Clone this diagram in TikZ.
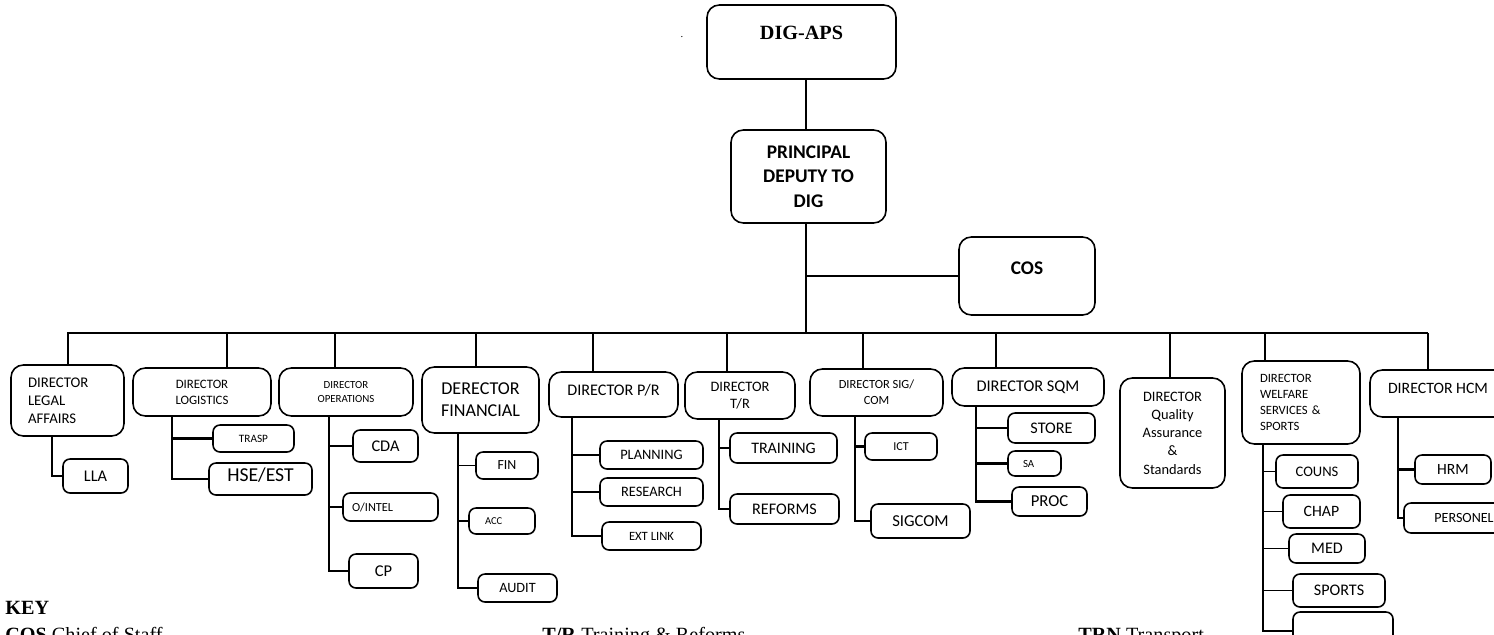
\documentclass[tikz,border=0pt]{standalone}
\usepackage{fontspec}
\setmainfont{Liberation Serif}
\newfontfamily\carlito{Carlito}
\begin{document}
\begin{tikzpicture} [
        x=0.02cm, y=-0.02cm,
        unit/.style={draw, rounded corners=7pt, line width=0.9pt, inner sep=0pt, align=center},
        sub/.style={draw, rounded corners=4pt, line width=0.9pt, inner sep=0pt, align=center},
        sz/.style 2 args={minimum width=#1*0.02cm, minimum height=#2*0.02cm},
        fs/.style 2 args={font=\carlito\fontsize{#1}{#2}\selectfont},
        fsb/.style 2 args={font=\carlito\bfseries\fontsize{#1}{#2}\selectfont},
        link/.style={line width=1.4pt},
        thinlink/.style={line width=0.6pt},
        keytext/.style={font=\fontsize{11.5}{13}\selectfont, anchor=base west, inner sep=0pt} ]
    \useasboundingbox (0,0) rectangle (1494,635);
    \node[unit, sz={189}{74}, font=\bfseries\fontsize{11.5}{14}\selectfont, text height=0.27cm, text depth=0.36cm] (dig) at (801.5,42) {DIG-APS};
    \node[font=\fontsize{6}{7}\selectfont, inner sep=0pt] (dot) at (682,37) {.};
    \node[unit, sz={155}{93}, fsb={11}{13.9}] (pdig) at (808.5,176.5) {PRINCIPAL\\DEPUTY TO\\DIG};
    \node[unit, sz={136}{78}, fsb={11}{13}, text height=0.25cm, text depth=0.32cm] (cos) at (1027,276) {COS};

    \node[unit, sz={113}{71}, fs={8.4}{10.2}, text width=1.58cm, align=left] (legal) at (67.5,400.5) {DIRECTOR\\LEGAL\\AFFAIRS};
    \node[unit, sz={138}{48}, fs={7.3}{9.1}] (logistics) at (202,392) {DIRECTOR\\LOGISTICS};
    \node[unit, sz={134}{48}, fs={6.2}{7.4}] (ops) at (346,392) {DIRECTOR\\OPERATIONS};
    \node[unit, sz={117}{66}, fs={10.3}{12.5}] (financial) at (480.5,400) {DERECTOR\\FINANCIAL};
    \node[unit, sz={129}{45}, fs={9.2}{11}, text height=0.21cm, text depth=0.18cm] (pr) at (613.5,394.5) {DIRECTOR P/R};
    \node[unit, sz={110}{47}, fs={8.2}{9.7}] (tr) at (740,395.5) {DIRECTOR\\T/R};
    \node[unit, sz={133}{47}, fs={7.1}{9.1}] (sig) at (876.5,392.5) {DIRECTOR SIG/\\COM};
    \node[unit, sz={152}{38}, fs={9.3}{11}] (sqm) at (1028,387) {DIRECTOR SQM};
    \node[unit, sz={105}{110}, fs={8.2}{10.4}] (qa) at (1172.5,433) {DIRECTOR\\Quality\\Assurance\\\&\\Standards};
    \node[unit, sz={118}{83}, fs={7.2}{9.1}, text width=1.64cm, align=left] (welfare) at (1301,402.5) {DIRECTOR\\WELFARE\\SERVICES \&\\SPORTS};
    \node[unit, sz={136}{47}, fs={9}{11}, text height=0.2cm, text depth=0.2cm] (hcm) at (1438,393.5) {DIRECTOR HCM};

    \node[sub, sz={65}{34}, fs={9.3}{11}] (lla) at (95.5,476) {LLA};
    \node[sub, sz={81}{27}, fs={6.4}{8}] (trasp) at (253.5,438.5) {TRASP};
    \node[sub, sz={103}{32}, fs={11.2}{13}, text height=0.1cm, text depth=0cm] (hse) at (260.5,479) {HSE/EST};
    \node[sub, sz={65}{32}, fs={9.3}{11}] (cda) at (385.5,446) {CDA};
    \node[sub, sz={95}{28}, fs={7}{9}, text width=1.54cm, align=left] (ointel) at (390.5,507) {O/INTEL};
    \node[sub, sz={69}{34}, fs={9.4}{11}] (cp) at (383.5,571) {CP};
    \node[sub, sz={62}{27}, fs={7.9}{9}] (fin) at (507,465.5) {FIN};
    \node[sub, sz={66}{26}, fs={6}{8}, text width=0.68cm, align=left] (acc) at (502,521) {ACC};
    \node[sub, sz={79}{28}, fs={8.1}{10}] (audit) at (517.5,588) {AUDIT};
    \node[sub, sz={103}{28}, fs={8.2}{10}] (plan) at (651.5,455) {PLANNING};
    \node[sub, sz={103}{28}, fs={8.2}{10}] (res) at (651.5,492) {RESEARCH};
    \node[sub, sz={99}{28}, fs={7.2}{9}] (ext) at (651.5,536) {EXT LINK};
    \node[sub, sz={107}{30}, fs={9.1}{11}] (train) at (783.5,448) {TRAINING};
    \node[sub, sz={109}{30}, fs={9.2}{11}] (reform) at (784.5,509) {REFORMS};
    \node[sub, sz={72}{27}, fs={6.9}{8}] (ict) at (901,446.5) {ICT};
    \node[sub, sz={99}{34}, fs={9.5}{11}] (sigcom) at (920.5,521) {SIGCOM};
    \node[sub, sz={87}{30}, fs={9.2}{11}] (store) at (1051.5,428) {STORE};
    \node[sub, sz={53}{25}, fs={6.2}{8}, text width=0.46cm, align=left] (sa) at (1034.5,463.5) {SA};
    \node[sub, sz={75}{29}, fs={9.5}{11}] (proc) at (1049.5,501.5) {PROC};
    \node[sub, sz={82}{33}, fs={8.3}{10}] (couns) at (1317,471.5) {COUNS};
    \node[sub, sz={77}{33}, fs={9}{11}] (chap) at (1321.5,511.5) {CHAP};
    \node[sub, sz={76}{29}, fs={9.2}{11}] (med) at (1327,548.5) {MED};
    \node[sub, sz={92}{33}, fs={9.2}{11}] (sports) at (1339,590.5) {SPORTS};
    \node[sub, sz={100}{38}] (blank) at (1343,631) {};
    \node[sub, sz={76}{29}, fs={8.9}{11}] (hrm) at (1453,469.5) {HRM};
    \node[sub, sz={120}{30}, fs={8}{10}] (pers) at (1464,518) {PERSONEL};

    \coordinate (trunk) at (806,333);
    \draw[link] (trunk |- dig.south) -- (trunk |- pdig.north);
    \draw[link] (trunk |- pdig.south) -- (trunk);
    \draw[link] (trunk |- cos.west) -- (cos.west);
    \coordinate (busl) at (67,333);
    \coordinate (busr) at (1428,333);
    \draw[line width=1.6pt] (busl) -- (busr);
    \foreach \x/\n in {68/legal, 227/logistics, 335/ops, 593/pr, 727/tr, 863/sig, 1170/qa, 1428/hcm}
        \draw[link] (\x,333) -- (\x,333 |- \n.north);
    \foreach \x/\n in {476/financial, 996/sqm, 1265/welfare}
        \draw[thinlink] (\x,333) -- (\x,333 |- \n.north);

    \coordinate (legalv) at (52,0 |- legal.south);
    \coordinate (logv) at (172,0 |- logistics.south);
    \coordinate (opsv) at (329,0 |- ops.south);
    \coordinate (finv) at (458,0 |- financial.south);
    \coordinate (prv) at (572,0 |- pr.south);
    \coordinate (trv) at (719,0 |- tr.south);
    \coordinate (sigv) at (855,0 |- sig.south);
    \coordinate (sqmv) at (976,0 |- sqm.south);
    \coordinate (welv) at (1263,0 |- welfare.south);
    \coordinate (hcmv) at (1398,0 |- hcm.south);
    \draw[link] (legalv) |- (lla.west);
    \draw[link] (logv) |- (trasp.west) (logv) |- (hse.west);
    \draw[link] (opsv) |- (cda.west) (opsv) |- (ointel.west) (opsv) |- (cp.west);
    \draw[thinlink] (finv) |- (fin.west) (finv) |- (acc.west) (finv) |- (audit.west);
    \draw[link] (prv) |- (plan.west) (prv) |- (res.west) (prv) |- (ext.west);
    \draw[link] (trv) |- (train.west) (trv) |- (reform.west);
    \draw[link] (sigv) |- (ict.west) (sigv) |- (sigcom.west);
    \draw[link] (sqmv) |- (store.west) (sqmv) |- (sa.west) (sqmv) |- (proc.west);
    \draw[thinlink] (welv) |- (couns.west) (welv) |- (chap.west) (welv) |- (med.west) (welv) |- (sports.west) (welv) |- (blank.west);
    \draw[link] (hcmv) |- (hrm.west) (hcmv) |- (pers.west);

    \node[keytext] (key) at (5,614) {\textbf{KEY}};
    \node[keytext] (keycos) at (5,641) {\textbf{COS} Chief of Staff};
    \node[keytext] (keytr) at (542,641) {\textbf{T/R} Training \& Reforms};
    \node[keytext] (keytrn) at (1078,641) {\textbf{TRN} Transport};
    \end{tikzpicture}
\end{document}
